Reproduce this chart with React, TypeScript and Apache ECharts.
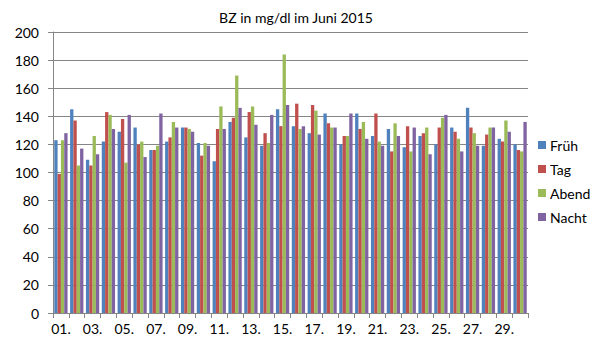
import React, { useEffect, useRef } from "react";
import * as echarts from "echarts";

const days = ["01.", "02.", "03.", "04.", "05.", "06.", "07.", "08.", "09.", "10.", "11.", "12.", "13.", "14.", "15.", "16.", "17.", "18.", "19.", "20.", "21.", "22.", "23.", "24.", "25.", "26.", "27.", "28.", "29.", "30."];
const frueh = [123, 145, 109, 122, 129, 132, 116, 122, 132, 121, 108, 136, 125, 119, 145, 133, 128, 142, 120, 142, 126, 131, 118, 126, 120, 132, 146, 119, 124, 120];
const tag = [99, 137, 105, 143, 138, 120, 116, 125, 132, 112, 131, 139, 143, 128, 133, 149, 148, 135, 126, 131, 142, 115, 133, 128, 132, 129, 132, 127, 122, 116];
const abend = [123, 105, 126, 141, 107, 122, 119, 136, 131, 121, 147, 169, 147, 121, 184, 131, 144, 132, 126, 136, 122, 135, 115, 132, 139, 124, 128, 132, 137, 115];
const nacht = [128, 117, 113, 131, 141, 111, 142, 132, 129, 119, 131, 146, 134, 141, 148, 133, 127, 132, 142, 124, 119, 126, 132, 113, 141, 115, 119, 132, 129, 136];

const FONT = "Lato";

export default function App() {
  const ref = useRef<HTMLDivElement>(null);
  useEffect(() => {
    if (!ref.current) return;
    const chart = echarts.init(ref.current, undefined, { renderer: "svg" });
    const mk = (name: string, data: number[], color: string) => ({
      name,
      type: "bar",
      data,
      itemStyle: { color },
      barGap: "0%",
      barCategoryGap: "16%",
    });
    chart.setOption({
      animation: false,
      backgroundColor: "#ffffff",
      textStyle: { fontFamily: FONT },
      title: {
        text: "BZ in mg/dl im Juni 2015",
        left: 291,
        textAlign: "center",
        top: 5,
        textStyle: { fontFamily: FONT, fontSize: 14, fontWeight: "normal", color: "#000" },
      },
      legend: {
        orient: "vertical",
        left: 533,
        top: 133,
        itemWidth: 8,
        itemHeight: 8,
        itemGap: 10,
        icon: "rect",
        textStyle: { fontFamily: FONT, fontSize: 14, color: "#000", padding: [0, 0, 0, -1] },
        data: ["Früh", "Tag", "Abend", "Nacht"],
      },
      grid: { left: 53, right: 79, top: 32, bottom: 32, containLabel: false },
      xAxis: {
        type: "category",
        data: days,
        axisLine: { lineStyle: { color: "#868686" } },
        axisTick: { show: true, interval: 0, length: 5, lineStyle: { color: "#868686" } },
        axisLabel: { interval: 1, color: "#000", fontSize: 14, fontFamily: FONT, margin: 8 },
      },
      yAxis: {
        type: "value",
        min: 0,
        max: 200,
        interval: 20,
        axisLine: { show: true, lineStyle: { color: "#868686" } },
        axisTick: { show: true, length: 5, lineStyle: { color: "#868686" } },
        axisLabel: { color: "#000", fontSize: 14, fontFamily: FONT, margin: 14 },
        splitLine: { lineStyle: { color: "#868686" } },
      },
      series: [
        mk("Früh", frueh, "#4F81BD"),
        mk("Tag", tag, "#C0504D"),
        mk("Abend", abend, "#9BBB59"),
        mk("Nacht", nacht, "#8064A2"),
      ],
    });
    return () => chart.dispose();
  }, []);
  return (
    <div
      ref={ref}
      style={{ position: "fixed", left: 0, top: 0, width: 607, height: 345, background: "#fff" }}
    />
  );
}
